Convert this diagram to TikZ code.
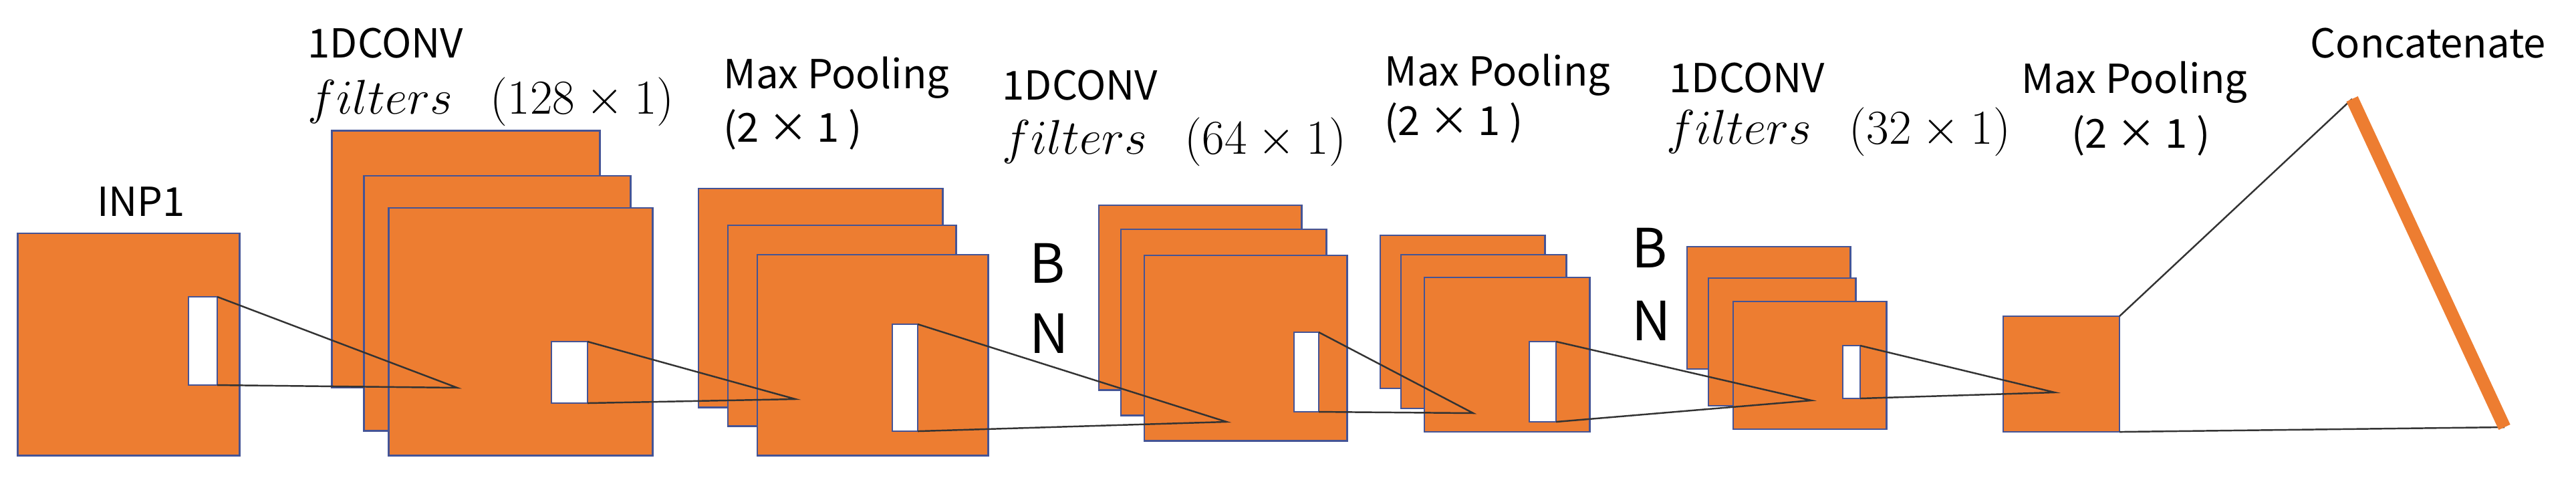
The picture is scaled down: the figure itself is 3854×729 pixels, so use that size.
\documentclass[tikz,border=0pt]{standalone}
\usepackage{fontspec}
\setmainfont{Noto Sans CJK SC}
\usepackage{tikz}
\usepackage{xcolor}
\definecolor{fmapfill}{RGB}{237,125,49}
\definecolor{fmapedge}{RGB}{68,84,150}
\begin{document}
\begin{tikzpicture}[x=0.01cm,y=-0.01cm,
    fmap/.style={draw=fmapedge,fill=fmapfill,line width=0.8pt,inner sep=0pt,outer sep=0pt},
    win/.style={draw=fmapedge,fill=white,line width=0.8pt,inner sep=0pt,outer sep=0pt},
    link/.style={draw=black!80,line width=0.7pt},
    lbl/.style={inner sep=0pt,anchor=base west,font=\fontsize{17}{20}\selectfont},
    mlbl/.style={inner sep=0pt,anchor=base west,font=\fontsize{20}{24}\selectfont},
    bn/.style={inner sep=0pt,anchor=base west,font=\fontsize{23}{26}\selectfont}]
\useasboundingbox (0,0) rectangle (3854,729);
\path
    [every node/.style={fmap}]
    (192.5,515) node [minimum width=3.31cm,minimum height=3.32cm] (inp) {}
    (697,387.5) node [minimum width=4.00cm,minimum height=3.83cm] (c1a) {}
    (744,453.5) node [minimum width=3.98cm,minimum height=3.81cm] (c1b) {}
    (779,496) node [minimum width=3.94cm,minimum height=3.70cm] (c1c) {}
    (1227.5,445.5) node [minimum width=3.65cm,minimum height=3.27cm] (p1a) {}
    (1259.5,487) node [minimum width=3.41cm,minimum height=3.00cm] (p1b) {}
    (1305.5,531) node [minimum width=3.45cm,minimum height=3.00cm] (p1c) {}
    (1795.5,445) node [minimum width=3.03cm,minimum height=2.76cm] (c2a) {}
    (1830.5,482) node [minimum width=3.07cm,minimum height=2.78cm] (c2b) {}
    (1863.5,520.5) node [minimum width=3.03cm,minimum height=2.77cm] (c2c) {}
    (2188,466.5) node [minimum width=2.46cm,minimum height=2.29cm] (p2a) {}
    (2219.5,496) node [minimum width=2.47cm,minimum height=2.30cm] (p2b) {}
    (2254.5,530.5) node [minimum width=2.47cm,minimum height=2.31cm] (p2c) {}
    (2646,460.5) node [minimum width=2.44cm,minimum height=1.83cm] (c3a) {}
    (2666,511.5) node [minimum width=2.20cm,minimum height=1.91cm] (c3b) {}
    (2707.5,546.5) node [minimum width=2.29cm,minimum height=1.91cm] (c3c) {}
    (3084,559.5) node [minimum width=1.74cm,minimum height=1.73cm] (p3) {};
\path
    [every node/.style={win}]
    (303.5,510) node [minimum width=0.43cm,minimum height=1.32cm] (inpwin) {}
    (852,557) node [minimum width=0.54cm,minimum height=0.92cm] (c1win) {}
    (1354,565) node [minimum width=0.38cm,minimum height=1.60cm] (p1win) {}
    (1954.5,556.5) node [minimum width=0.37cm,minimum height=1.19cm] (c2win) {}
    (2308,571) node [minimum width=0.40cm,minimum height=1.20cm] (p2win) {}
    (2770,556.5) node [minimum width=0.26cm,minimum height=0.79cm] (c3win) {};
\coordinate (ap1) at (684,580);
\coordinate (ap2) at (1190,597);
\coordinate (ap3) at (1835,631);
\coordinate (ap4) at (2204,618);
\coordinate (ap5) at (2710,599);
\coordinate (ap6) at (3074,587);
\coordinate (cattop) at (3519,148);
\coordinate (catbot) at (3747,639);
\draw [link] (inpwin.north east) -- (ap1) -- (inpwin.south east);
\draw [link] (c1win.north east) -- (ap2) -- (c1win.south east);
\draw [link] (p1win.north east) -- (ap3) -- (p1win.south east);
\draw [link] (c2win.north east) -- (ap4) -- (c2win.south east);
\draw [link] (p2win.north east) -- (ap5) -- (p2win.south east);
\draw [link] (c3win.north east) -- (ap6) -- (c3win.south east);
\draw [link] (p3.north east) -- (cattop);
\draw [link] (p3.south east) -- (catbot);
\draw [draw=fmapfill,line width=0.19cm] (cattop) -- (catbot);

\path
    [every node/.style={lbl}]
    (211,323) node [anchor=base] (inplbl) {INP1}
    (460,86) node (c1lbl) {1DCONV}
    (1082,132) node (p1lbl) {Max Pooling}
    (1082,212) node (p1size) {(2 × 1 )}
    (1499,149) node (c2lbl) {1DCONV}
    (2071,128) node (p2lbl) {Max Pooling}
    (2071,202) node (p2size) {(2 × 1 )}
    (2497,138) node (c3lbl) {1DCONV}
    (3024,139) node (p3lbl) {Max Pooling}
    (3099,221) node (p3size) {(2 × 1 )}
    (3456,86) node (catlbl) {Concatenate};
\path
    [every node/.style={mlbl}]
    (460,170) node (c1size) {$filters$\hspace{0.8em}$(128\times 1)$}
    (1499,230) node (c2size) {$filters$\hspace{0.8em}$(64\times 1)$}
    (2493,215) node (c3size) {$filters$\hspace{0.8em}$(32\times 1)$};
\path
    [every node/.style={bn}]
    (1540,423) node (b1) {B}
    (1540,528) node (n1) {N}
    (2441,400) node (b2) {B}
    (2441,509) node (n2) {N};
\end{tikzpicture}
\end{document}
